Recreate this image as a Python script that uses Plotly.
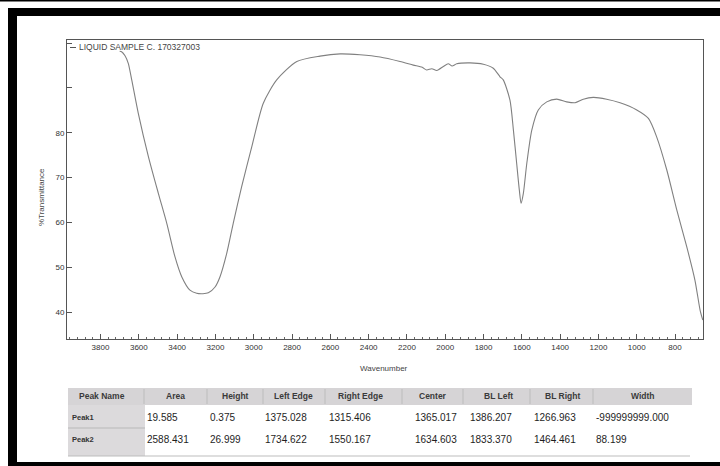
import plotly.graph_objects as go

# ---- data ----
wavenumber = [3700, 3690, 3672, 3655, 3637, 3603, 3550, 3498, 3454, 3411, 3376, 3333, 3298,
              3265, 3237, 3202, 3176, 3141, 3107, 3063, 3010, 2950, 2880, 2775, 2654, 2549,
              2445, 2340, 2236, 2167, 2120, 2097, 2070, 2044, 2010, 1984, 1964, 1940, 1870,
              1801, 1749, 1714, 1697, 1662, 1644, 1627, 1613, 1604, 1592, 1574, 1548, 1514,
              1470, 1418, 1366, 1322, 1279, 1227, 1157, 1087, 1000, 939, 896, 843, 791, 739,
              696, 669, 655]
transmittance = [98.2, 98.1, 97.2, 95.5, 91.8, 84.4, 74.7, 66.5, 59.8, 52.3, 47.9, 44.9, 44.2,
                 44.1, 44.3, 45.6, 47.9, 53.1, 59.8, 68.0, 76.9, 86.6, 91.8, 95.9, 97.1, 97.6,
                 97.4, 96.9, 95.9, 95.1, 94.6, 94.0, 94.3, 93.9, 94.8, 95.4, 94.9, 95.4, 95.6,
                 95.3, 94.4, 92.5, 91.8, 87.3, 80.6, 73.2, 67.2, 64.3, 66.5, 73.2, 80.6, 85.1,
                 86.9, 87.5, 86.9, 86.7, 87.5, 87.9, 87.5, 86.7, 85.1, 83.2, 79.1, 71.7, 62.8,
                 54.6, 47.1, 40.4, 38.2]

x_tick_vals = [3800, 3600, 3400, 3200, 3000, 2800, 2600, 2400, 2200, 2000, 1800, 1600, 1400, 1200, 1000, 800]
y_tick_vals = [40, 50, 60, 70, 80, 90, 100]
y_tick_text = ["40", "50", "60", "70", "80", "", ""]

sample_title = "LIQUID SAMPLE C. 170327003"

table_headers = ["Peak Name", "Area", "Height", "Left Edge", "Right Edge", "Center", "BL Left", "BL Right", "Width"]
peak_names = ["Peak1", "Peak2"]
area = ["19.585", "2588.431"]
height = ["0.375", "26.999"]
left_edge = ["1375.028", "1734.622"]
right_edge = ["1315.406", "1550.167"]
center = ["1365.017", "1634.603"]
bl_left = ["1386.207", "1833.370"]
bl_right = ["1266.963", "1464.461"]
width_col = ["-999999999.000", "88.199"]

# ---- layout geometry (pixels) ----
W, H = 720, 466
L, R, T, B = 67, 703, 40, 339


def px(x):
    return (x - L) / (R - L)


def py(y):
    return (B - y) / (B - T)


FONT = "Liberation Sans, Arial, sans-serif"

fig = go.Figure()
fig.add_trace(go.Scatter(
    x=wavenumber, y=transmittance, mode="lines",
    line=dict(color="#808080", width=1.1, shape="spline", smoothing=0.7),
    hoverinfo="skip", showlegend=False,
))

shapes = []


def rect(x0, y0, x1, y1, color, line=None):
    shapes.append(dict(type="rect", xref="paper", yref="paper",
                       x0=px(x0), x1=px(x1), y0=py(y1), y1=py(y0),
                       fillcolor=color, line=line or dict(width=0), layer="below"))


def hline(x0, x1, y, color, w=1):
    shapes.append(dict(type="line", xref="paper", yref="paper",
                       x0=px(x0), x1=px(x1), y0=py(y), y1=py(y),
                       line=dict(color=color, width=w)))


def vline(x, y0, y1, color, w=1):
    shapes.append(dict(type="line", xref="paper", yref="paper",
                       x0=px(x), x1=px(x), y0=py(y0), y1=py(y1),
                       line=dict(color=color, width=w)))


# outer black frame of the scan
rect(0, 0, 720, 1.5, "black")
rect(8, 8, 720, 16, "black")
rect(8, 8, 17, 466, "black")
rect(8, 462, 720, 466, "black")

# table backgrounds
rect(68, 388, 692, 405, "#d6d4d6")
rect(68, 405, 145, 456, "#dcdadc")
hline(68, 145, 428, "#b8b8b8")
hline(68, 690, 456, "#bdbdbd")
col_seps = [144, 207, 263, 325, 402, 463, 530, 593]
for s in col_seps:
    vline(s, 389, 404, "#bcbcbc")

# legend marker before the title
hline(70, 76, 47.5, "#555", 1)

annotations = []


def text(x, y, s, size=8, color="#333", xanchor="left", bold=False, angle=0):
    annotations.append(dict(
        xref="paper", yref="paper", x=px(x), y=py(y), text=("<b>%s</b>" % s) if bold else s,
        showarrow=False, xanchor=xanchor, yanchor="middle", textangle=angle,
        font=dict(family=FONT, size=size, color=color)))


text(77, 47.5, sample_title, size=8.5, color="#444")
text(41, 197, "%Transmittance", size=8, color="#444", xanchor="center", angle=-90)
text(384, 368, "Wavenumber", size=8, color="#444", xanchor="center")

header_centers = [102, 175, 235, 293, 360, 433, 498, 562, 643]
for hx, h in zip(header_centers, table_headers):
    text(hx, 396, h, size=8.5, color="#3a3a3a", xanchor="center", bold=True)

row_y = [417, 439]
for i, name in enumerate(peak_names):
    text(70, row_y[i], name, size=7.5, color="#333", bold=True)

col_starts = [145, 208, 263, 327, 413, 468, 532, 594]
columns = [area, height, left_edge, right_edge, center, bl_left, bl_right, width_col]
for cx, col in zip(col_starts, columns):
    for i, v in enumerate(col):
        text(cx, row_y[i], v, size=10, color="#1e1e1e")

fig.update_layout(
    width=W, height=H,
    margin=dict(l=L, r=W - R, t=T, b=H - B, pad=0),
    paper_bgcolor="white", plot_bgcolor="white",
    font=dict(family=FONT, size=8, color="#333"),
    shapes=shapes, annotations=annotations,
    showlegend=False,
    xaxis=dict(range=[3975, 654], tickvals=x_tick_vals, ticktext=[str(v) for v in x_tick_vals],
               ticks="inside", ticklen=5, tickcolor="#555", tickwidth=1,
               minor=dict(dtick=40, ticks="inside", ticklen=2.5, tickcolor="#666"),
               showline=True, mirror=True, linecolor="#555", linewidth=1,
               showgrid=False, zeroline=False, tickfont=dict(size=8, color="#333")),
    yaxis=dict(range=[34.0, 100.7], tickvals=y_tick_vals, ticktext=y_tick_text,
               ticks="inside", ticklen=5, tickcolor="#555", tickwidth=1,
               showline=True, mirror=True, linecolor="#555", linewidth=1,
               showgrid=False, zeroline=False, tickfont=dict(size=8, color="#333")),
)

fig.write_html("out.html", config={"displayModeBar": False},
               post_script="document.body.style.margin='0';document.body.style.overflow='hidden';")
